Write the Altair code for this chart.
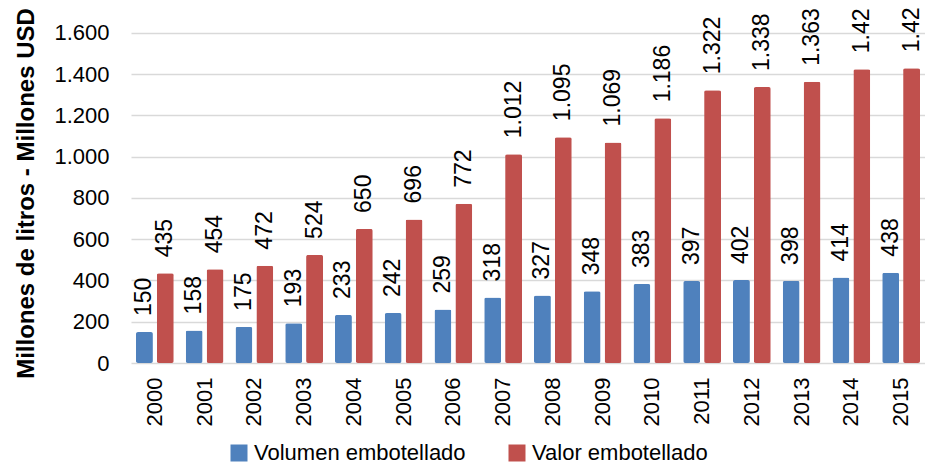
import altair as alt
import pandas as pd

years = [str(y) for y in range(2000, 2016)]
volumen = [150, 158, 175, 193, 233, 242, 259, 318, 327, 348, 383, 397, 402, 398, 414, 438]
valor = [435, 454, 472, 524, 650, 696, 772, 1012, 1095, 1069, 1186, 1322, 1338, 1363, 1424, 1429]
series_names = ["Volumen embotellado", "Valor embotellado"]
colors = ["#4F81BD", "#C0504D"]
y_ticks = [0, 200, 400, 600, 800, 1000, 1200, 1400, 1600]


def fmt(v):
    return f"{v:,}".replace(",", ".")


rows = []
for i, y in enumerate(years):
    rows.append({"year": y, "series": series_names[0], "value": volumen[i], "label": fmt(volumen[i])})
    rows.append({"year": y, "series": series_names[1], "value": valor[i], "label": fmt(valor[i])})
df = pd.DataFrame(rows)

FONT = "Liberation Sans"

x_enc = alt.X("year:N", sort=years, title=None,
              scale=alt.Scale(paddingInner=0.24, paddingOuter=0.1),
              axis=alt.Axis(labelAngle=-90, labelFontSize=22, labelColor="black",
                            labelPadding=14, ticks=False, domain=False, labelFont=FONT,
                            labelBaseline="middle", labelAlign="right"))
xoff = alt.XOffset("series:N", sort=series_names, scale=alt.Scale(paddingInner=0.19))
y_enc = alt.Y("value:Q", title="Millones de litros - Millones USD",
              scale=alt.Scale(domain=[0, 1721], nice=False),
              axis=alt.Axis(values=y_ticks, labelFontSize=22, labelColor="black", labelFont=FONT,
                            labelExpr="replace(format(datum.value, ','), ',', '.')",
                            ticks=False, domain=False, labelPadding=22,
                            gridColor="#D9D9D9", gridWidth=1.5,
                            titleFont=FONT, titleFontSize=24, titleFontWeight="bold",
                            titleColor="black", titlePadding=15, titleY=185))

bars = alt.Chart(df).mark_bar(cornerRadius=2).encode(
    x=x_enc,
    xOffset=xoff,
    y=y_enc,
    color=alt.Color("series:N", sort=series_names,
                    scale=alt.Scale(domain=series_names, range=colors),
                    legend=alt.Legend(title=None, orient="none", legendX=97, legendY=434,
                                      direction="horizontal", symbolType="square",
                                      symbolSize=289, symbolStrokeWidth=0,
                                      labelFontSize=22, labelColor="black", labelFont=FONT,
                                      labelLimit=0, labelOffset=4, columnPadding=40)),
)

labels = alt.Chart(df).mark_text(angle=270, align="left", baseline="middle", dx=16,
                                 fontSize=23, font=FONT, color="black").encode(
    x=alt.X("year:N", sort=years),
    xOffset=alt.XOffset("series:N", sort=series_names),
    y=alt.Y("value:Q"),
    text="label:N",
)

chart = alt.layer(bars, labels).properties(
    width=794, height=355,
    autosize=alt.AutoSizeParams(type="none"),
    padding={"left": 123, "top": 0, "right": 0, "bottom": 99},
).configure_view(stroke=None)

chart.save("out.html", embed_options={"renderer": "svg", "actions": False})
